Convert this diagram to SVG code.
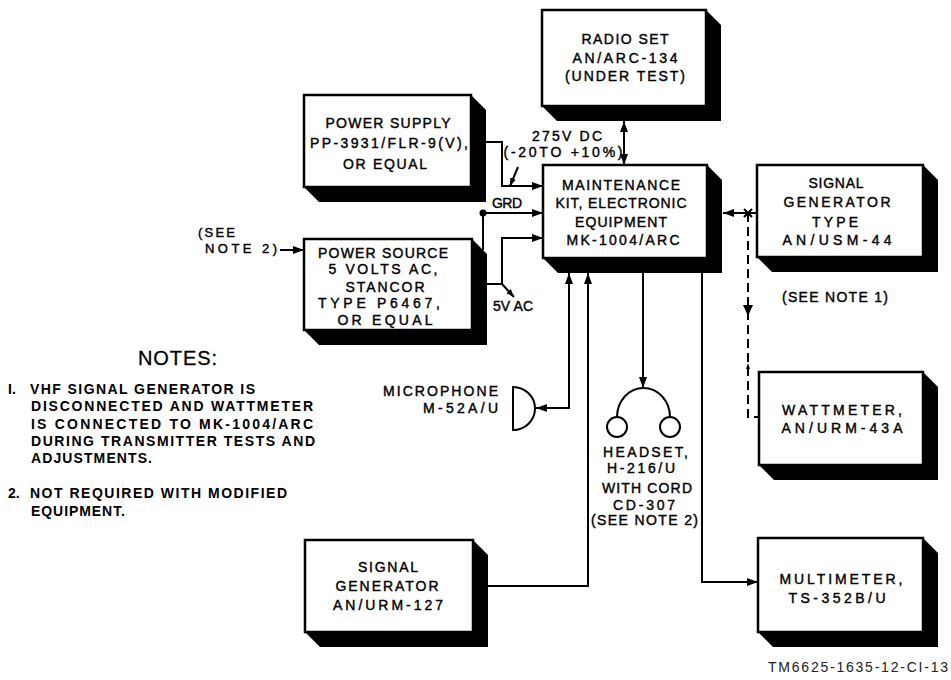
<svg xmlns="http://www.w3.org/2000/svg" width="951" height="680" viewBox="0 0 951 680">
<style>
  .bg{fill:#fff}
  .shadow{fill:#000}
  .box{fill:#fff;stroke:#000;stroke-width:2.5}
  .lbl{font-family:"Liberation Sans",Arial,sans-serif;font-size:14px;fill:#000;stroke:#000;stroke-width:0.4;text-anchor:middle}
  .txt{font-family:"Liberation Sans",Arial,sans-serif;font-size:14px;fill:#000;stroke:#000;stroke-width:0.4}
  .small{font-family:"Liberation Sans",Arial,sans-serif;font-size:13px;fill:#000;stroke:#000;stroke-width:0.4}
  .title{font-family:"Liberation Sans",Arial,sans-serif;font-size:20px;fill:#000;stroke:#000;stroke-width:0.3}
  .note{font-family:"Liberation Sans",Arial,sans-serif;font-size:14px;font-weight:bold;fill:#000}
  .foot{font-family:"Liberation Sans",Arial,sans-serif;font-size:14px;fill:#222}
  .wire{fill:none;stroke:#000;stroke-width:2}
  .dash{fill:none;stroke:#000;stroke-width:2;stroke-dasharray:9 5}
</style>
<defs>
  <marker id="arr" viewBox="0 0 11 8" refX="11" refY="4" markerWidth="11" markerHeight="8" markerUnits="userSpaceOnUse" orient="auto-start-reverse">
    <path d="M0,0 L11,4 L0,8 Z" fill="#000"/>
  </marker>
  <marker id="arrs" viewBox="0 0 8 6" refX="8" refY="3" markerWidth="8" markerHeight="6" markerUnits="userSpaceOnUse" orient="auto-start-reverse">
    <path d="M0,0 L8,3 L0,6 Z" fill="#000"/>
  </marker>
</defs>
<rect class="bg" x="0" y="0" width="951" height="680"/>

<g id="connectors">
  <path class="wire" d="M624,121 V165" marker-start="url(#arr)" marker-end="url(#arr)"/>
  <path class="wire" d="M486,142 H502 V186 H543" marker-end="url(#arr)"/>
  <path class="wire" d="M518,167 L510,186" marker-end="url(#arrs)"/>
  <path class="wire" d="M483,250 V213 H543" marker-end="url(#arr)"/>
  <circle cx="483" cy="213" r="3.5" fill="#000"/>
  <path class="wire" d="M487,284 H502 V238 H543" marker-end="url(#arr)"/>
  <path class="wire" d="M502,284 L514,297" marker-end="url(#arrs)"/>
  <path class="wire" d="M280,250 H304" marker-end="url(#arr)"/>
  <path class="wire" d="M569,273 V408 H536" marker-start="url(#arr)" marker-end="url(#arr)"/>
  <path class="wire" d="M488,586 H588 V273" marker-end="url(#arr)"/>
  <path class="wire" d="M643,273 V388" marker-end="url(#arr)"/>
  <path class="wire" d="M702,273 V582 H758" marker-end="url(#arr)"/>
  <path class="wire" d="M757,213 H723" marker-end="url(#arr)"/>
  <path class="wire" d="M744,209 L752,217 M752,209 L744,217"/>
  <path class="dash" d="M748,213 V417 H759"/>
  <path d="M743,305 L753,305 L748,316 Z" fill="#000"/>
  <path d="M746,369 L750,369 L748,363 Z" fill="#000"/>
</g>

<g id="radio-set">
  <path class="shadow" d="M706,10 L721,25 L721,121 L557,121 L542,106 Z"/>
  <rect class="box" x="542" y="10" width="164" height="96"/>
  <text class="lbl" x="625" y="44" textLength="87">RADIO SET</text>
  <text class="lbl" x="625" y="63" textLength="105">AN/ARC-134</text>
  <text class="lbl" x="625" y="81" textLength="120">(UNDER TEST)</text>
</g>

<g id="power-supply">
  <path class="shadow" d="M471,95 L486,110 L486,202 L319,202 L304,187 Z"/>
  <rect class="box" x="304" y="95" width="167" height="92"/>
  <text class="lbl" x="388" y="128" textLength="125">POWER SUPPLY</text>
  <text class="lbl" x="389" y="148" textLength="158">PP-3931/FLR-9(V),</text>
  <text class="lbl" x="385" y="169" textLength="84">OR EQUAL</text>
</g>

<g id="maintenance-kit">
  <path class="shadow" d="M707,165 L722,180 L722,273 L558,273 L543,258 Z"/>
  <rect class="box" x="543" y="165" width="164" height="93"/>
  <text class="lbl" x="621" y="190" textLength="118">MAINTENANCE</text>
  <text class="lbl" x="621" y="208" textLength="131">KIT, ELECTRONIC</text>
  <text class="lbl" x="621" y="227" textLength="92">EQUIPMENT</text>
  <text class="lbl" x="623" y="245" textLength="113">MK-1004/ARC</text>
</g>

<g id="power-source">
  <path class="shadow" d="M472,239 L487,254 L487,345 L319,345 L304,330 Z"/>
  <rect class="box" x="304" y="239" width="168" height="91"/>
  <text class="lbl" x="383" y="258" textLength="130">POWER SOURCE</text>
  <text class="lbl" x="383" y="274" textLength="109">5 VOLTS AC,</text>
  <text class="lbl" x="385" y="292" textLength="79">STANCOR</text>
  <text class="lbl" x="379" y="308" textLength="122">TYPE P6467,</text>
  <text class="lbl" x="385" y="325" textLength="95">OR EQUAL</text>
</g>

<g id="signal-generator-urm127">
  <path class="shadow" d="M473,540 L488,555 L488,647 L320,647 L305,632 Z"/>
  <rect class="box" x="305" y="540" width="168" height="92"/>
  <text class="lbl" x="388" y="572" textLength="60">SIGNAL</text>
  <text class="lbl" x="387" y="591" textLength="103">GENERATOR</text>
  <text class="lbl" x="388" y="610" textLength="110">AN/URM-127</text>
</g>

<g id="signal-generator-usm44">
  <path class="shadow" d="M923,165 L938,180 L938,272 L772,272 L757,257 Z"/>
  <rect class="box" x="757" y="165" width="166" height="92"/>
  <text class="lbl" x="836" y="188" textLength="55">SIGNAL</text>
  <text class="lbl" x="837" y="207" textLength="107">GENERATOR</text>
  <text class="lbl" x="835" y="227" textLength="46">TYPE</text>
  <text class="lbl" x="837" y="245" textLength="109">AN/USM-44</text>
</g>

<g id="wattmeter">
  <path class="shadow" d="M923,372 L938,387 L938,480 L774,480 L759,465 Z"/>
  <rect class="box" x="759" y="372" width="164" height="93"/>
  <text class="lbl" x="842" y="415" textLength="120">WATTMETER,</text>
  <text class="lbl" x="842" y="433" textLength="121">AN/URM-43A</text>
</g>

<g id="multimeter">
  <path class="shadow" d="M923,538 L938,553 L938,647 L773,647 L758,632 Z"/>
  <rect class="box" x="758" y="538" width="165" height="94"/>
  <text class="lbl" x="841" y="584" textLength="123">MULTIMETER,</text>
  <text class="lbl" x="837" y="603" textLength="97">TS-352B/U</text>
</g>

<g id="microphone">
  <path d="M513,387 A22,21.5 0 0 1 513,430 Z" fill="#fff" stroke="#000" stroke-width="2"/>
  <text class="txt" x="498" y="396" text-anchor="end" textLength="115">MICROPHONE</text>
  <text class="txt" x="498" y="413" text-anchor="end" textLength="75">M-52A/U</text>
</g>

<g id="headset">
  <path class="wire" d="M617,417 A26.5,29 0 0 1 670,417"/>
  <circle cx="617" cy="427" r="10" fill="#fff" stroke="#000" stroke-width="2"/>
  <circle cx="670" cy="427" r="10" fill="#fff" stroke="#000" stroke-width="2"/>
  <text class="txt" x="603" y="457" textLength="85">HEADSET,</text>
  <text class="txt" x="607" y="473" textLength="68">H-216/U</text>
  <text class="txt" x="602" y="493" textLength="90">WITH CORD</text>
  <text class="txt" x="613" y="510" textLength="62">CD-307</text>
  <text class="txt" x="591" y="525" textLength="107">(SEE NOTE 2)</text>
</g>

<g id="labels">
  <text class="txt" x="567" y="141" text-anchor="middle" textLength="70">275V DC</text>
  <text class="txt" x="563" y="157" text-anchor="middle" textLength="119">(-20TO +10%)</text>
  <text class="txt" x="492" y="208" textLength="30">GRD</text>
  <text class="small" x="198" y="237" textLength="37">(SEE</text>
  <text class="small" x="205" y="253" textLength="72">NOTE 2)</text>
  <text class="txt" x="493" y="311" textLength="40">5V AC</text>
  <text class="txt" x="782" y="302" textLength="106">(SEE NOTE 1)</text>
</g>

<g id="notes">
  <text class="title" x="138" y="365" textLength="79">NOTES:</text>
  <text class="note" x="8" y="394">I.</text>
  <text class="note" x="30" y="394" textLength="225">VHF SIGNAL GENERATOR IS</text>
  <text class="note" x="31" y="411" textLength="282">DISCONNECTED AND WATTMETER</text>
  <text class="note" x="31" y="429" textLength="282">IS CONNECTED  TO MK-1004/ARC</text>
  <text class="note" x="31" y="446" textLength="284">DURING TRANSMITTER TESTS AND</text>
  <text class="note" x="31" y="463" textLength="121">ADJUSTMENTS.</text>
  <text class="note" x="8" y="498">2.</text>
  <text class="note" x="30" y="498" textLength="257">NOT REQUIRED WITH MODIFIED</text>
  <text class="note" x="31" y="516" textLength="94">EQUIPMENT.</text>
</g>

<text id="footer" class="foot" x="768" y="672" textLength="180">TM6625-1635-12-CI-13</text>
</svg>
